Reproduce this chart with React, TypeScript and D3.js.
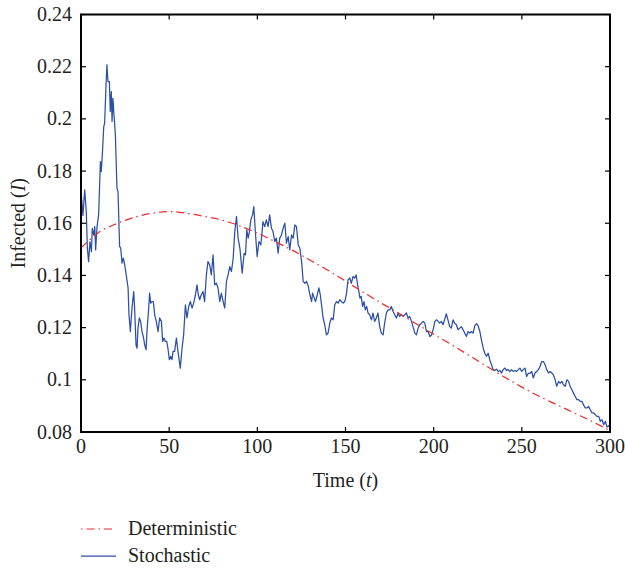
import React from "react";
import * as d3 from "d3";

const xTicks = [0, 50, 100, 150, 200, 250, 300];
const yTicks = [0.08, 0.1, 0.12, 0.14, 0.16, 0.18, 0.2, 0.22, 0.24];
const yTickLabels = ["0.08", "0.1", "0.12", "0.14", "0.16", "0.18", "0.2", "0.22", "0.24"];

const detT = [0, 10, 20, 30, 40, 50, 60, 70, 80, 90, 100, 110, 120, 130, 140, 150, 160, 170, 180, 190, 200, 210, 220, 230, 240, 250, 260, 270, 280, 290, 300];
const detI = [0.1505, 0.1565, 0.1598, 0.1622, 0.1638, 0.1645, 0.1638, 0.1626, 0.1612, 0.159, 0.1562, 0.153, 0.1496, 0.1458, 0.142, 0.1378, 0.1336, 0.1295, 0.1256, 0.1215, 0.1175, 0.1135, 0.1094, 0.1052, 0.1011, 0.0972, 0.0936, 0.0904, 0.0872, 0.084, 0.0805];

const stochT = [
  0, 0.2, 1.1, 2.1, 3.0, 3.6, 4.3, 5.1, 5.9, 6.4, 7.2, 7.8, 8.3, 9.1, 10.0, 11.0, 11.5, 12.1, 12.9, 13.4,
  14.2, 14.7, 15.3, 16.1, 16.6, 17.2, 17.6, 18.1, 18.7, 19.5, 20.4, 21.0, 21.9, 22.5, 23.3, 24.0, 24.8, 25.9, 26.7, 27.2,
  28.0, 28.5, 29.1, 29.9, 30.4, 31.2, 31.8, 32.3, 33.1, 33.8, 34.6, 35.5, 36.1, 36.9, 37.4, 38.4, 38.9, 39.5, 40.3, 41.0,
  41.8, 42.7, 43.7, 44.6, 45.6, 46.3, 47.1, 47.8, 48.6, 49.3, 50.1, 50.9, 51.6, 52.2,
  53.1, 54.1, 55.0, 56.3, 57.3, 58.2, 59.2, 60.1, 61.1, 62.0, 63.0, 63.9, 64.9, 65.8, 66.5, 67.3, 68.2, 69.2, 70.1,
  71.1, 72.0, 73.0, 73.9, 74.9, 75.8, 76.8, 77.7, 78.7, 79.6, 80.6, 81.5, 82.5, 83.4, 84.4, 85.3, 86.3, 87.2, 88.2,
  89.1, 90.1, 91.4, 92.5, 93.3, 94.0, 94.8, 95.5, 96.3, 97.3, 98.0, 99.0, 99.9, 100.9, 102.0, 103.2,
  104.2, 105.1, 106.1, 107.0, 108.0, 108.9, 109.9, 110.8, 111.8, 112.7, 113.7, 114.6, 115.6, 116.5, 117.5, 118.4,
  119.4, 120.3, 121.3, 122.2, 123.2, 124.1, 125.1, 126.0, 127.0, 127.9, 128.9, 129.8, 130.8, 131.3, 132.3, 133.0,
  134.0, 134.9, 135.7, 136.4, 137.3, 138.2, 139.2, 140.1, 141.1, 142.0, 143.0, 143.9, 144.9, 145.8, 146.8, 147.7,
  148.7, 149.6, 150.6,
  151.4, 152.4, 153.3, 154.3, 155.2, 156.0, 156.7, 157.4, 158.2, 158.9, 159.7, 160.5, 161.2, 162.0, 162.8, 163.7,
  164.7, 165.6, 166.5, 167.5, 168.4, 169.4, 170.3, 171.3, 172.2, 173.2, 174.1, 175.1, 176.0, 177.0, 177.9, 178.9,
  179.8, 180.7, 181.7, 182.6, 183.6, 184.5, 185.5, 186.4, 187.4, 188.3, 189.3, 190.2, 191.2, 192.1, 193.1, 194.0,
  195.0, 195.9, 196.9, 197.8, 198.8, 199.7, 200.7, 201.6,
  202.5, 203.4, 204.4, 205.3, 206.2, 207.2, 208.1, 209.1, 210.0, 211.0, 211.9, 212.9, 213.8, 214.8, 215.7, 216.7,
  217.6, 218.6, 219.5, 220.5, 221.4, 222.4, 223.3, 224.3, 225.2, 226.2, 227.1, 228.1, 229.0, 230.0, 230.9, 231.8,
  232.8, 233.7, 234.7, 235.6, 236.6, 237.5, 238.5, 239.4, 240.4, 241.3, 242.3, 243.2, 244.2, 245.1, 246.1, 247.0,
  248.0, 248.9, 249.9, 250.8, 251.8,
  252.7, 253.7, 254.6, 255.6, 256.5, 257.5, 258.4, 259.4, 260.3, 261.3, 262.2, 263.2, 264.1, 265.1, 266.0, 267.0,
  267.9, 268.9, 269.8, 270.8, 271.7, 272.7, 273.6, 274.6, 275.5, 276.5, 277.4, 278.4, 279.3, 280.3, 281.2, 282.2,
  283.1, 284.1, 285.0, 286.0, 286.9, 287.9, 288.8, 289.8, 290.7, 291.7, 292.6, 293.6, 294.5, 295.5, 296.4, 297.4,
  298.3, 299.3, 300
];

const stochI = [
  0.165, 0.1709, 0.163, 0.1728, 0.1645, 0.1506, 0.1453, 0.153, 0.1491, 0.158, 0.1555, 0.1587, 0.1498, 0.1587, 0.1632, 0.1836, 0.1798, 0.1862, 0.197, 0.1983,
  0.213, 0.2207, 0.2143, 0.2143, 0.2028, 0.2104, 0.199, 0.2079, 0.2015, 0.1938, 0.1734, 0.1721, 0.1511, 0.1505, 0.1447, 0.1466, 0.144, 0.139, 0.1352, 0.1249,
  0.1185, 0.1237, 0.1287, 0.1338, 0.1275, 0.1134, 0.1121, 0.1198, 0.1237, 0.1224, 0.1185, 0.116, 0.1134, 0.1115, 0.1185, 0.1275, 0.1332, 0.1294, 0.13, 0.13,
  0.1249, 0.1224, 0.1185, 0.1237, 0.1224, 0.1147, 0.116, 0.1147, 0.1147, 0.1121, 0.1077, 0.109, 0.1077, 0.1109,
  0.1109, 0.116, 0.1109, 0.1045, 0.1121, 0.1172, 0.1287, 0.1237, 0.1281, 0.13, 0.1275, 0.1294, 0.1326, 0.1364, 0.1326, 0.1307, 0.1326, 0.1338, 0.13,
  0.1402, 0.1453, 0.144, 0.1402, 0.1479, 0.1364, 0.137, 0.1352, 0.13, 0.1332, 0.13, 0.1275, 0.1377, 0.1402, 0.1434, 0.1415, 0.1466, 0.1568, 0.1626,
  0.1543, 0.1505, 0.1409, 0.1485, 0.1479, 0.1575, 0.1543, 0.1568, 0.1613, 0.1632, 0.1664, 0.1555, 0.1472, 0.153, 0.1517, 0.1606,
  0.1587, 0.1613, 0.1587, 0.1632, 0.1581, 0.1568, 0.153, 0.1543, 0.1485, 0.1543, 0.1555, 0.1581, 0.16, 0.1524, 0.1549, 0.1498,
  0.1555, 0.1543, 0.1594, 0.1587, 0.1517, 0.1505, 0.1453, 0.1377, 0.137, 0.1377, 0.1358, 0.1326, 0.13, 0.1332, 0.1313, 0.13,
  0.1326, 0.1352, 0.1326, 0.1287, 0.1237, 0.1211, 0.1172, 0.1179, 0.1217, 0.1237, 0.123, 0.1287, 0.13, 0.1294, 0.1307, 0.13,
  0.1294, 0.13, 0.1332,
  0.1383, 0.139, 0.137, 0.1396, 0.139, 0.1402, 0.137, 0.1345, 0.1313, 0.132, 0.1281, 0.13, 0.1268, 0.1281, 0.1256, 0.1249,
  0.123, 0.1256, 0.1224, 0.1237, 0.1256, 0.1204, 0.1179, 0.1172, 0.1217, 0.1256, 0.1268, 0.1268, 0.1281, 0.1262, 0.1249, 0.1237,
  0.1256, 0.1243, 0.1249, 0.1243, 0.1249, 0.1256, 0.1237, 0.1243, 0.1224, 0.1204, 0.1179, 0.1172, 0.1198, 0.1211, 0.1217, 0.1224,
  0.1217, 0.1185, 0.1185, 0.1166, 0.1172, 0.1192, 0.1224, 0.123,
  0.1224, 0.1217, 0.1224, 0.1211, 0.123, 0.1253, 0.123, 0.1204, 0.1198, 0.123, 0.1217, 0.1211, 0.1192, 0.1198, 0.1204, 0.1192,
  0.1179, 0.1166, 0.1185, 0.1179, 0.1185, 0.1179, 0.1207, 0.1215, 0.1207, 0.1185, 0.1153, 0.1121, 0.1102, 0.109, 0.1102, 0.1077,
  0.1058, 0.1039, 0.1036, 0.1041, 0.1032, 0.1036, 0.1026, 0.1039, 0.1045, 0.1036, 0.1039, 0.1032, 0.1039, 0.1032, 0.1036, 0.1032,
  0.1039, 0.1045, 0.1032, 0.1039, 0.1045,
  0.1013, 0.1025, 0.1025, 0.1032, 0.1007, 0.1026, 0.1032, 0.1039, 0.1051, 0.107, 0.107, 0.1058, 0.1039, 0.1026, 0.1032, 0.1026,
  0.1019, 0.1, 0.0975, 0.0994, 0.0987, 0.0994, 0.0981, 0.0975, 0.1, 0.0994, 0.0975, 0.0962, 0.0949, 0.0936, 0.0924, 0.0924,
  0.0917, 0.0917, 0.0904, 0.0892, 0.0892, 0.0898, 0.0885, 0.0873, 0.0873, 0.0866, 0.086, 0.086, 0.0841, 0.0847, 0.0828, 0.0841,
  0.0819, 0.0824, 0.0819
];

const legendLabels = ["Deterministic", "Stochastic"];

const W = 625;
const H = 569;
const M = { left: 81, right: 610, top: 14.5, bottom: 432 };
const FONT = '"Liberation Serif", "Times New Roman", serif';
const RED = "#f0282a";
const BLUE = "#2c4fa6";
const DASH = "8,4,1.5,4";
const TXT = { fontFamily: FONT, fontSize: 20, fill: "#231f20" } as const;

export default function App() {
  const x = d3.scaleLinear().domain([0, 300]).range([M.left, M.right]);
  const y = d3.scaleLinear().domain([0.08, 0.24]).range([M.bottom, M.top]);

  const detLine = d3
    .line<number>()
    .x((_, i) => x(detT[i]))
    .y((d) => y(d))
    .curve(d3.curveMonotoneX);
  const stochLine = d3
    .line<number>()
    .x((_, i) => x(stochT[i]))
    .y((d) => y(d));

  const tickLen = 5;

  return (
    <svg
      width={W}
      height={H}
      style={{ position: "absolute", left: 0, top: 0, background: "#fff", fontFamily: FONT }}
    >
      <rect x={0} y={0} width={W} height={H} fill="#fff" />
      <defs>
        <clipPath id="plot">
          <rect x={M.left} y={M.top} width={M.right - M.left} height={M.bottom - M.top} />
        </clipPath>
      </defs>
      <g clipPath="url(#plot)">
        <path d={stochLine(stochI) || ""} fill="none" stroke={BLUE} strokeWidth={1.25} strokeLinejoin="round" />
        <path d={detLine(detI) || ""} fill="none" stroke={RED} strokeWidth={1.2} strokeDasharray={DASH} />
      </g>

      {xTicks.map((t) => (
        <g key={"xt" + t}>
          <line x1={x(t)} x2={x(t)} y1={M.bottom} y2={M.bottom - tickLen} stroke="#000" strokeWidth={1.2} />
          <line x1={x(t)} x2={x(t)} y1={M.top} y2={M.top + tickLen} stroke="#000" strokeWidth={1.2} />
          <text x={x(t)} y={M.bottom + 21} textAnchor="middle" style={TXT}>
            {t}
          </text>
        </g>
      ))}
      {yTicks.map((v, i) => (
        <g key={"yt" + v}>
          <line x1={M.left} x2={M.left + tickLen} y1={y(v)} y2={y(v)} stroke="#000" strokeWidth={1.2} />
          <line x1={M.right} x2={M.right - tickLen} y1={y(v)} y2={y(v)} stroke="#000" strokeWidth={1.2} />
          <text x={M.left - 9} y={y(v) + 6.5} textAnchor="end" style={TXT}>
            {yTickLabels[i]}
          </text>
        </g>
      ))}

      <rect
        x={M.left}
        y={M.top}
        width={M.right - M.left}
        height={M.bottom - M.top}
        fill="none"
        stroke="#000"
        strokeWidth={2}
      />

      <text x={x(150)} y={487} textAnchor="middle" style={TXT}>
        Time (<tspan fontStyle="italic">t</tspan>)
      </text>
      <text
        transform={`translate(25, ${(M.top + M.bottom) / 2}) rotate(-90)`}
        textAnchor="middle"
        style={TXT}
      >
        Infected (<tspan fontStyle="italic">I</tspan>)
      </text>

      <line x1={81} x2={116} y1={529} y2={529} stroke={RED} strokeWidth={1.2} strokeDasharray="1.5,4,8,4" />
      <text x={128} y={535} style={TXT}>
        {legendLabels[0]}
      </text>
      <line x1={81} x2={116} y1={556} y2={556} stroke={BLUE} strokeWidth={1.25} />
      <text x={128} y={562} style={TXT}>
        {legendLabels[1]}
      </text>
    </svg>
  );
}
